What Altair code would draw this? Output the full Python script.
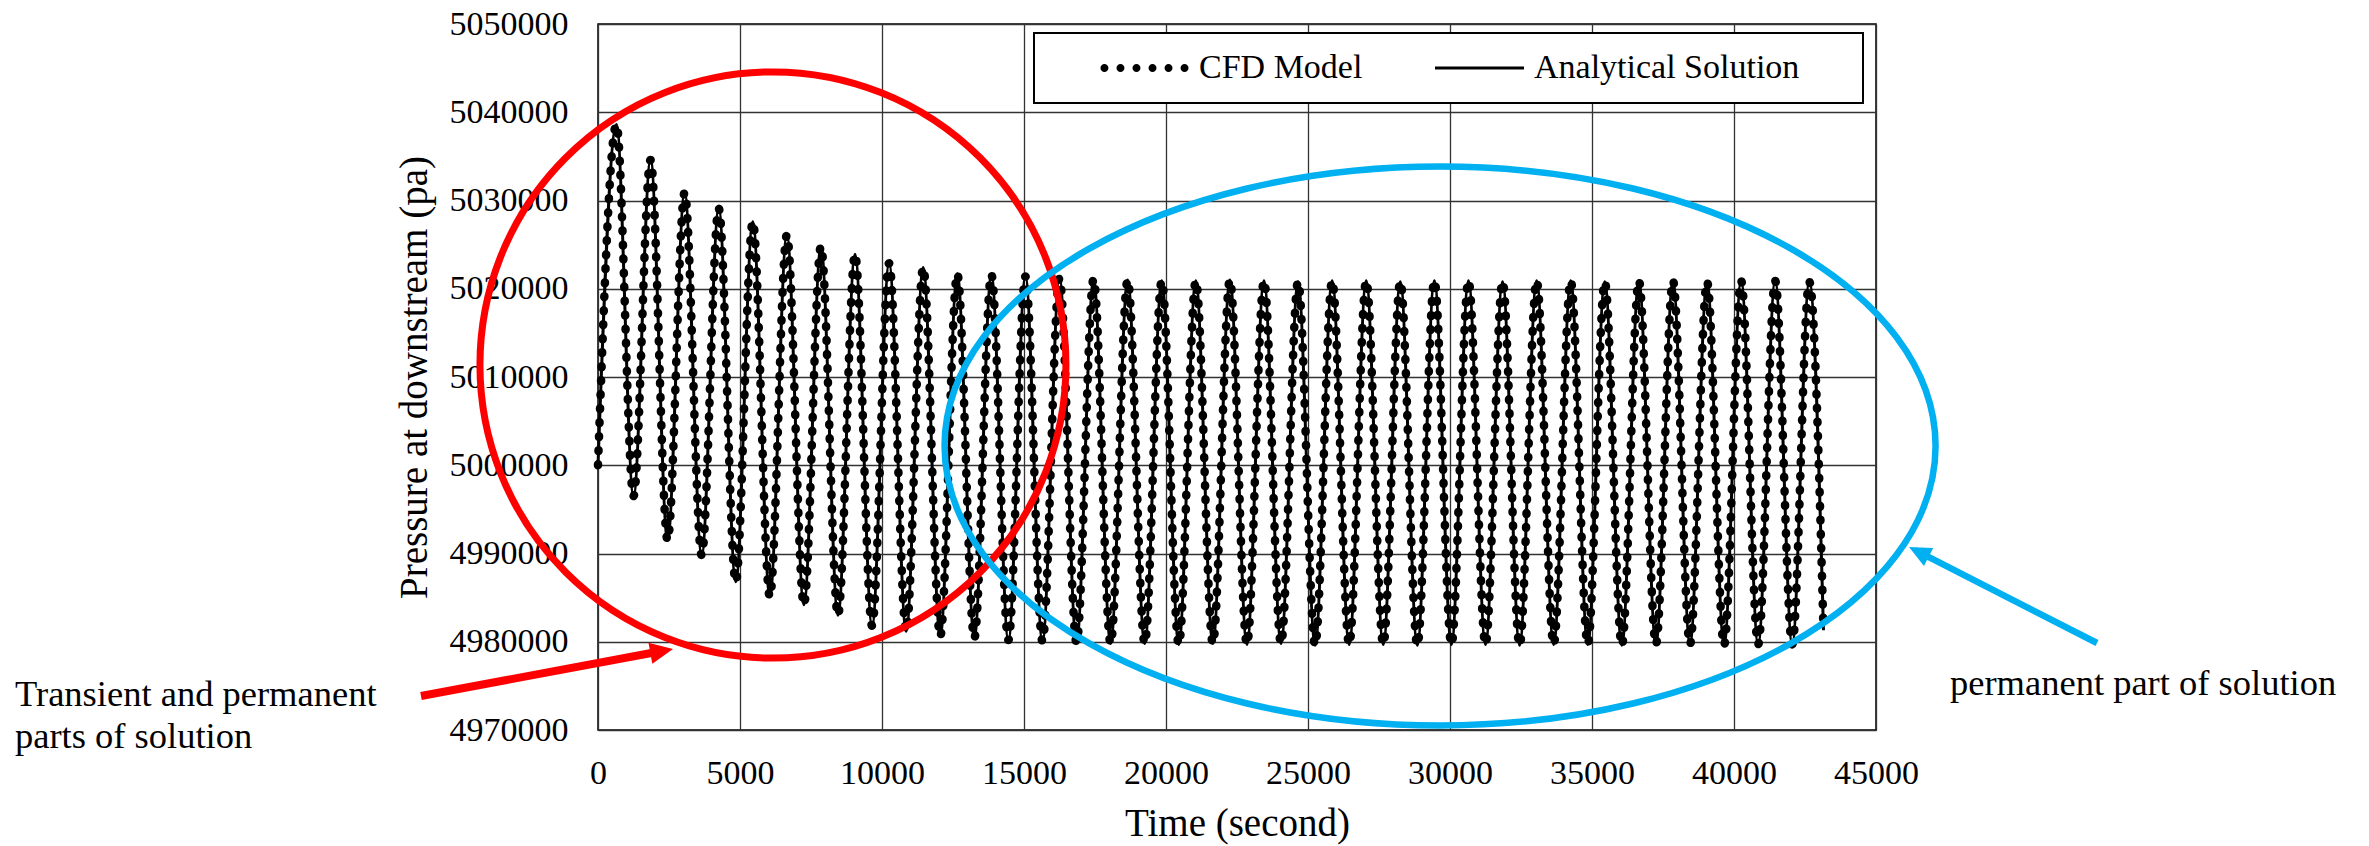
import altair as alt
import pandas as pd

# ---------------- values ----------------
start_time = [0]
start_pa = [5000000]

peak_time = [650, 1850, 3050, 4250, 5450, 6650, 7850, 9050, 10250, 11450,
             12650, 13850, 15050, 16250, 17450, 18650, 19850, 21050, 22250, 23450,
             24650, 25850, 27050, 28250, 29450, 30650, 31850, 33050, 34250, 35450,
             36650, 37850, 39050, 40250, 41450, 42650]
peak_pa = [5038600, 5034600, 5030900, 5029100, 5027600, 5026100, 5024800, 5023900, 5022900, 5022400,
           5021700, 5021600, 5021400, 5021200, 5021100, 5021000, 5020900, 5020900, 5021000, 5020900,
           5020800, 5020900, 5020900, 5020800, 5020900, 5020900, 5020800, 5020900, 5020900, 5020800,
           5020900, 5020900, 5020800, 5020900, 5020900, 5020800]

trough_time = [1250, 2450, 3650, 4850, 6050, 7250, 8450, 9650, 10850, 12050,
               13250, 14450, 15650, 16850, 18050, 19250, 20450, 21650, 22850, 24050,
               25250, 26450, 27650, 28850, 30050, 31250, 32450, 33650, 34850, 36050,
               37250, 38450, 39650, 40850, 42050]
trough_pa = [4996500, 4991500, 4989800, 4986800, 4985100, 4984200, 4983000, 4981800, 4981200, 4980600,
             4980400, 4980200, 4980050, 4979900, 4979800, 4979800, 4979700, 4979800, 4979700, 4979800,
             4979600, 4979700, 4979700, 4979600, 4979700, 4979700, 4979600, 4979700, 4979700, 4979600,
             4979700, 4979700, 4979600, 4979700, 4979700]

end_time = [43150]
end_pa = [4981300]

series_names = ["CFD Model", "Analytical Solution"]

x_ticks = [0, 5000, 10000, 15000, 20000, 25000, 30000, 35000, 40000, 45000]
y_ticks = [4970000, 4980000, 4990000, 5000000, 5010000, 5020000, 5030000, 5040000, 5050000]

# annotations (in data units)
ring_t = [6160, 29650]
ring_pa = [5011360, 5002180]

arrow_tail_t = [-6232, 52782]
arrow_tail_pa = [4973853, 4979858]
arrow_end_t = [2018, 46725]
arrow_end_pa = [4978804, 4989807]
arrow_tip_t = [2641, 46162]
arrow_tip_pa = [4979178, 4990737]

note_text = ["Transient and permanent\nparts of solution", "permanent part of solution"]
note_t = [-20528, 47606]
note_pa = [4972720, 4973966]

# ---------------- build tables ----------------
pts = sorted(zip(start_time + peak_time + trough_time + end_time,
                 start_pa + peak_pa + trough_pa + end_pa))
rows = []
for s in series_names:
    for t, p in pts:
        rows.append({"t": t, "p": p, "series": s})
df = pd.DataFrame(rows)
df_cfd = df[df["series"] == "CFD Model"]
df_ana = df[df["series"] == "Analytical Solution"]

FONT = "Liberation Serif"

x_scale = alt.Scale(domain=[0, 45000], nice=False, zero=False)
y_scale = alt.Scale(domain=[4970000, 5050000], nice=False, zero=False)

x_axis = alt.Axis(values=x_ticks, format="d", title="Time (second)", labelFlush=False,
                  labelPadding=26, ticks=False, tickSize=0, domain=False, grid=True,
                  titleBaseline="alphabetic", titleY=105)
y_axis = alt.Axis(values=y_ticks, format="d", title="Pressure at downstream (pa)", labelFlush=False,
                  labelPadding=30, ticks=False, tickSize=0, domain=False, grid=True,
                  titleAngle=270, titleBaseline="alphabetic", titleAlign="center",
                  titleX=-172, titleY=353)

X = alt.X("t:Q", scale=x_scale, axis=x_axis)
Y = alt.Y("p:Q", scale=y_scale, axis=y_axis)

cfd_line = alt.Chart(df_cfd).mark_line(
    interpolate="monotone", strokeCap="round", strokeJoin="round",
    strokeDash=[1, 13], strokeWidth=8.5, color="#000000"
).encode(x=X, y=Y)

ana_line = alt.Chart(df_ana).mark_line(
    interpolate="monotone", strokeJoin="round", strokeWidth=3, color="#000000"
).encode(x="t:Q", y="p:Q")

# legend symbols: a row of dots, and a solid bar
dot_r = 0.09
dot_centres = [-0.9, -0.54, -0.18, 0.18, 0.54, 0.9]
dots_path = " ".join(
    f"M {c - dot_r:.3f} 0 A {dot_r} {dot_r} 0 1 0 {c + dot_r:.3f} 0 A {dot_r} {dot_r} 0 1 0 {c - dot_r:.3f} 0 Z"
    for c in dot_centres)
bar_path = "M -1 -0.035 L 1 -0.035 L 1 0.035 L -1 0.035 Z"

legend = alt.Legend(title=".", titleOrient="right", titleColor="#ffffff", titleFontSize=10,
                    titlePadding=43, titleFont=FONT,
                    orient="none", legendX=436, legendY=9, direction="horizontal",
                    symbolSize=7921, symbolOffset=48, labelOffset=10,
                    columnPadding=24, padding=18, clipHeight=34,
                    fillColor="#ffffff", strokeColor="#000000",
                    symbolFillColor="#000000", symbolStrokeWidth=0, symbolOpacity=1,
                    labelFont=FONT, labelFontSize=34, labelColor="#000000", labelLimit=1000)

# key layer: same points, drawn at zero size, only carries the legend
legend_layer = alt.Chart(df).mark_point(filled=True, color="#000000", opacity=1, strokeWidth=0, size=0).encode(
    x="t:Q", y="p:Q",
    shape=alt.Shape("series:N", scale=alt.Scale(domain=series_names, range=[dots_path, bar_path]), legend=legend),
)

ring_df = pd.DataFrame({"t": ring_t, "p": ring_pa})
red_ring = alt.Chart(ring_df.iloc[[0]]).mark_point(
    shape="circle", size=343396, filled=False, stroke="#FF0000", strokeWidth=7, opacity=1
).encode(x="t:Q", y="p:Q")
blue_ring = alt.Chart(ring_df.iloc[[1]]).mark_point(
    shape="M -1 0 A 1 0.564 0 1 1 1 0 A 1 0.564 0 1 1 -1 0 Z", size=982081,
    filled=False, stroke="#00B0F0", strokeWidth=6.5, opacity=1
).encode(x="t:Q", y="p:Q")

arrow_colors = ["#FF0000", "#00B0F0"]
arrow_widths = [8, 6.5]
arrow_angles = [349.4, 207.1]
arrow_sizes = [2116, 1936]
arrow_layers = []
for i in range(2):
    shaft_df = pd.DataFrame({"t": [arrow_tail_t[i]], "p": [arrow_tail_pa[i]],
                             "t2": [arrow_end_t[i]], "p2": [arrow_end_pa[i]]})
    head_df = pd.DataFrame({"t": [arrow_tip_t[i]], "p": [arrow_tip_pa[i]]})
    arrow_layers.append(alt.Chart(shaft_df).mark_rule(color=arrow_colors[i], strokeWidth=arrow_widths[i]).encode(
        x="t:Q", y="p:Q", x2="t2:Q", y2="p2:Q"))
    arrow_layers.append(alt.Chart(head_df).mark_point(
        shape="M 0 0 L -1 -0.46 L -1 0.46 Z", size=arrow_sizes[i], angle=arrow_angles[i],
        filled=True, color=arrow_colors[i], opacity=1, strokeWidth=0).encode(x="t:Q", y="p:Q"))

note_df = pd.DataFrame({"t": note_t, "p": note_pa, "label": note_text})
notes = alt.Chart(note_df).mark_text(align="left", baseline="alphabetic", font=FONT, fontSize=36.5,
                                     lineBreak="\n", lineHeight=42, color="#000000").encode(
    x="t:Q", y="p:Q", text="label:N")

chart = alt.layer(cfd_line, ana_line, legend_layer, red_ring, blue_ring, *arrow_layers, notes).properties(
    width=1278, height=706,
    autosize=alt.AutoSizeParams(type="none"),
    padding={"left": 598, "top": 24, "right": 493, "bottom": 116},
    background="#ffffff",
).configure_view(
    stroke="#000000", strokeWidth=1.5
).configure_axis(
    labelFont=FONT, labelFontSize=34, labelColor="#000000",
    titleFont=FONT, titleFontSize=39, titleFontWeight="normal", titleColor="#000000",
    gridColor="#333333", gridWidth=1.3, gridOpacity=1
).configure_legend(
    strokeWidth=2
)

chart.save("out.html", embed_options={"renderer": "svg", "actions": False})
